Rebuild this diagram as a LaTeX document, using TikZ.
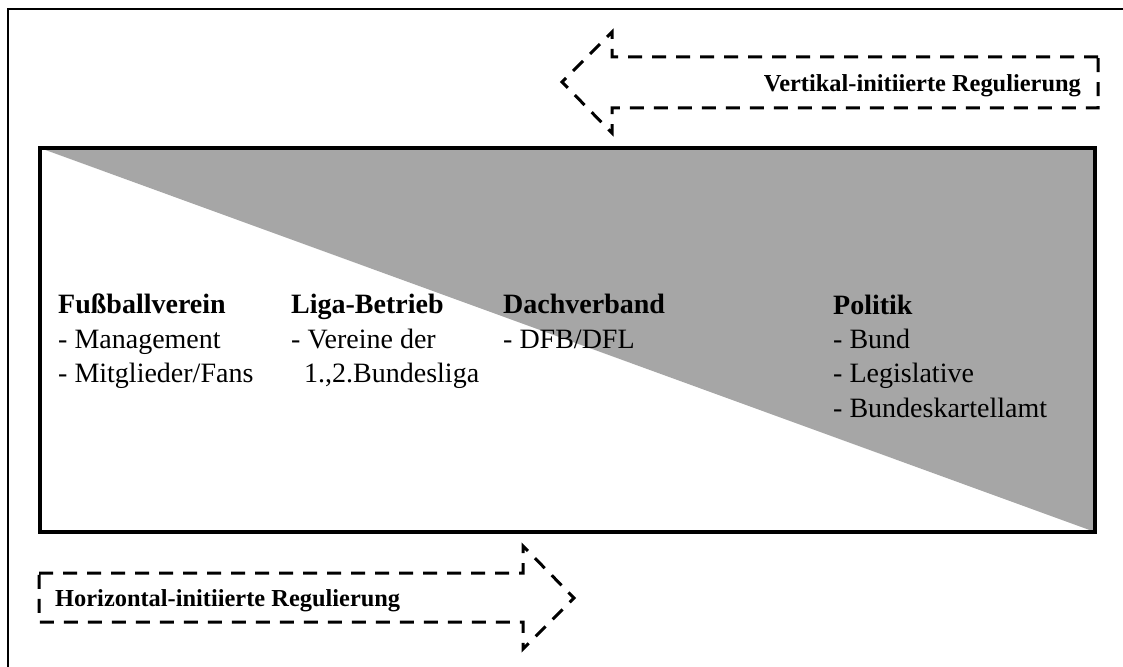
\documentclass[tikz,border=0pt]{standalone}
\usepackage{fontspec}
\setmainfont{Liberation Serif}
\definecolor{triGray}{HTML}{A6A6A6}
\tikzset{
  lbl/.style={anchor=base west, inner sep=0pt, font=\fontsize{28}{34}\selectfont},
  lblb/.style={lbl, font=\fontsize{28}{34}\selectfont\bfseries},
  arrtxt/.style={inner sep=0pt, font=\fontsize{24.4}{29}\selectfont\bfseries},
  dasharrow/.style={draw=black, line width=3pt, dash pattern=on 14pt off 10pt},
}
\begin{document}
\begin{tikzpicture}[x=1pt,y=-1pt]
\useasboundingbox (0,0) rectangle (1123,666);
\clip (0,0) rectangle (1123,666);
\fill[white] (0,0) rectangle (1123,666);
% outer frame (cut off at right and bottom)
\draw[line width=2.6pt] (8,700) -- (8,9) -- (1140,9);
% inner box with gray triangle
\fill[triGray] (40,148) -- (1095,148) -- (1095,532) -- cycle;
\draw[line width=4pt] (40,148) rectangle (1095,532);
% top dashed arrow (left)
\draw[dasharrow] (1098,57) -- (612,57) -- (612,32) -- (562,82) -- (612,133) -- (612,108) -- (1098,108) -- cycle;
\node[arrtxt, anchor=base east] (vert) at (1081,92) {Vertikal-initiierte Regulierung};
% bottom dashed arrow (right)
\draw[dasharrow] (39,573) -- (523,573) -- (523,546) -- (574,598) -- (523,649) -- (523,622) -- (39,622) -- cycle;
\node[arrtxt, anchor=base west] (hori) at (55,606) {Horizontal-initiierte Regulierung};
% column 1
\node[lblb] (c1h) at (58,313) {Fußballverein};
\node[lbl] (c1a) at (58,348) {- Management};
\node[lbl] (c1b) at (58,382) {- Mitglieder/Fans};
% column 2
\node[lblb] (c2h) at (291,313) {Liga-Betrieb};
\node[lbl] (c2a) at (291,348) {- Vereine der};
\node[lbl] (c2b) at (304,382) {1.,2.Bundesliga};
% column 3
\node[lblb] (c3h) at (503,313) {Dachverband};
\node[lbl] (c3a) at (503,348) {- DFB/DFL};
% column 4
\node[lblb] (c4h) at (833,314) {Politik};
\node[lbl] (c4a) at (833,348) {- Bund};
\node[lbl] (c4b) at (833,382) {- Legislative};
\node[lbl] (c4c) at (833,417) {- Bundeskartellamt};
\end{tikzpicture}
\end{document}
